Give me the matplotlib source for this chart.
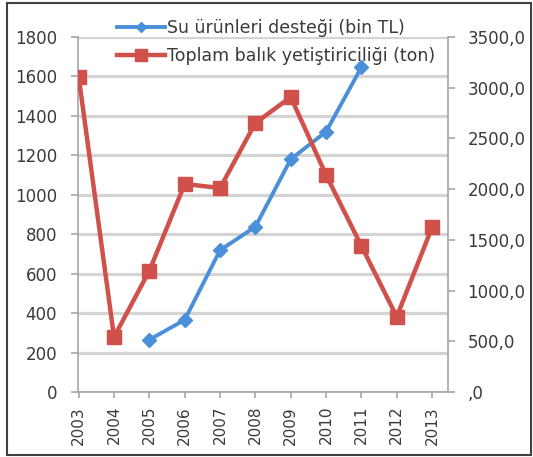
import matplotlib
matplotlib.use("Agg")
import matplotlib.pyplot as plt
from matplotlib.patches import Rectangle

plt.rcParams["font.family"] = ["DejaVu Sans"]

years = ["2003", "2004", "2005", "2006", "2007", "2008", "2009", "2010", "2011", "2012", "2013"]
destek_years = ["2005", "2006", "2007", "2008", "2009", "2010", "2011"]
destek = [265, 366, 719, 838, 1180, 1320, 1647]  # bin TL
balik = [3106, 542, 1196, 2051, 2011, 2652, 2908, 2139, 1439, 742, 1624]  # ton

blue = "#4a8fd8"
red = "#d0504a"
grid_c = "#d4d4d4"
spine_c = "#a6a6a6"
text_c = "#3a3a3a"

fig = plt.figure(figsize=(5.33, 4.57), dpi=100)
ax = fig.add_axes([78 / 533, 65 / 457, 370 / 533, 355 / 457])
ax2 = ax.twinx()

x_all = list(range(len(years)))
x_destek = [years.index(y) for y in destek_years]

l1, = ax.plot(x_destek, destek, color=blue, lw=2.8, marker="D", ms=7,
              label="Su ürünleri desteği (bin TL)")
l2, = ax2.plot(x_all, balik, color=red, lw=3.2, marker="s", ms=10.5,
               label="Toplam balık yetiştiriciliği (ton)")

ax.set_xlim(-0.02, 10.45)
ax.set_ylim(0, 1800)
ax.set_yticks(range(0, 1801, 200))
ax2.set_ylim(0, 3500)
ax2.set_yticks(range(0, 3501, 500))
ax2.set_yticklabels([",0"] + [f"{v},0" for v in range(500, 3501, 500)])

ax.set_xticks(x_all)
ax.set_xticklabels(years, rotation=90)
ax.grid(axis="y", color=grid_c, lw=2.3)
ax.set_axisbelow(True)

for a in (ax, ax2):
    for s in a.spines.values():
        s.set_color(spine_c)
        s.set_linewidth(1.2)
    a.spines["top"].set_visible(False)
ax.spines["right"].set_visible(False)
ax2.spines["left"].set_visible(False)
ax2.spines["bottom"].set_visible(False)

ax.tick_params(axis="y", length=5, width=1.2, color=spine_c, pad=10,
               labelsize=12, labelcolor=text_c)
ax.tick_params(axis="x", length=4, width=1.2, color=spine_c, pad=6,
               labelsize=11, labelcolor=text_c)
ax2.tick_params(axis="y", length=5, width=1.2, color=spine_c, pad=9,
                labelsize=12, labelcolor=text_c)

leg = fig.legend(handles=[l1, l2], loc="upper left", bbox_to_anchor=(108 / 533, 1 - 10 / 457),
                 frameon=False, fontsize=12.5, handlelength=2.8, handletextpad=0.1,
                 labelspacing=0.6, borderpad=0, labelcolor=text_c, markerscale=0.8)

fig.patches.append(Rectangle((7 / 533, 2 / 457), 524 / 533, 452 / 457,
                             transform=fig.transFigure, fill=False,
                             edgecolor="#404040", lw=1.5))

fig.savefig("out.png", dpi=100)
